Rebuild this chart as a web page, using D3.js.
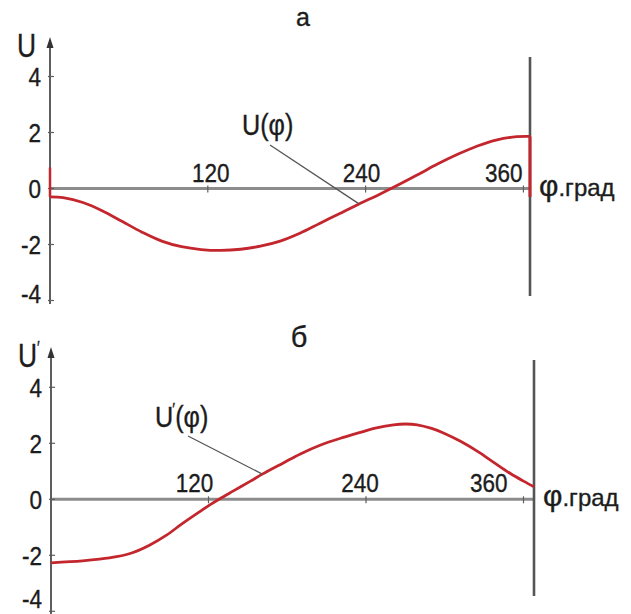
<!DOCTYPE html>
<html><head><meta charset="utf-8">
<script src="https://cdn.jsdelivr.net/npm/d3@7"></script>
<style>
body{margin:0;background:#fff}
svg{display:block}
text{font-family:"Liberation Sans",Arial,sans-serif;fill:#1c1c1c;stroke:#1c1c1c;stroke-width:0.35}
</style>
</head><body>
<script>
// ---- data ----
const yTicks = [4, 2, 0, -2, -4];
const xTicks = [120, 240, 360];
const panelTitles = ["а", "б"];

// panel а : U(φ)
const phiA = [0, 10, 25, 40, 55, 70, 85, 100, 115, 130, 145, 160, 175, 190, 205, 220, 235, 250, 265, 280, 295, 310, 325, 340, 355, 365];
const uA   = [-0.3, -0.33, -0.5, -0.8, -1.18, -1.56, -1.88, -2.08, -2.18, -2.21, -2.17, -2.06, -1.88, -1.6, -1.25, -0.9, -0.55, -0.22, 0.13, 0.5, 0.88, 1.22, 1.52, 1.74, 1.85, 1.86];
const jumpA0 = [0.75, -0.3];   // vertical jump at φ = 0
const jumpA1 = [1.86, -0.3];   // vertical jump at φ = end

// panel б : U'(φ)
const phiB = [0, 24, 37, 50, 62, 75, 88, 100, 114, 121, 129, 139, 152, 161, 177, 190, 205, 222, 235, 248, 261, 270, 279, 290, 299, 312, 325, 337, 350, 360, 368];
const uB   = [-2.27, -2.2, -2.14, -2.05, -1.91, -1.64, -1.28, -0.87, -0.42, -0.2, 0.03, 0.3, 0.65, 0.9, 1.3, 1.62, 1.93, 2.2, 2.38, 2.55, 2.66, 2.69, 2.66, 2.53, 2.37, 2.07, 1.71, 1.33, 0.92, 0.65, 0.45];

const W = 631, H = 614;
const svg = d3.select("body").append("svg").attr("width", W).attr("height", H);

const RED = "#c4262e", AX = "#5e5e5e", XAX = "#8c8c8c";

function txt(g, s, x, y, fs, sx, anchor) {
  return g.append("text")
    .attr("transform", `translate(${x},${y}) scale(${sx},1)`)
    .attr("font-size", fs)
    .attr("text-anchor", anchor || "start")
    .text(s);
}

function panel(cfg) {
  const g = svg.append("g");
  const x = d3.scaleLinear().domain([0, cfg.phiMax]).range([cfg.left, cfg.right]);
  const y = d3.scaleLinear().domain([-4, 4]).range([cfg.zeroY + 4 * cfg.unit, cfg.zeroY - 4 * cfg.unit]);

  // x axis line
  g.append("line").attr("x1", x(0)).attr("x2", x(cfg.phiMax))
    .attr("y1", y(0)).attr("y2", y(0)).attr("stroke", XAX).attr("stroke-width", 3);
  // x ticks
  g.selectAll(".xt").data(xTicks).join("line")
    .attr("x1", d => x(d)).attr("x2", d => x(d))
    .attr("y1", y(0) - 3).attr("y2", y(0) + 4)
    .attr("stroke", AX).attr("stroke-width", 1.2);
  xTicks.forEach((d, i) => {
    txt(g, String(d), x(d) + cfg.xLabOff[i], y(0) - cfg.xLabRaise, 25, 0.9, i === 2 ? "end" : "middle");
  });

  // y axis
  g.append("line").attr("x1", x(0)).attr("x2", x(0))
    .attr("y1", cfg.axisTop + 6).attr("y2", cfg.axisBottom)
    .attr("stroke", AX).attr("stroke-width", 2);
  g.append("path")
    .attr("d", `M${x(0)},${cfg.axisTop} L${x(0) - 3.5},${cfg.axisTop + 11} L${x(0) + 3.5},${cfg.axisTop + 11} Z`)
    .attr("fill", "#333");
  g.selectAll(".yt").data(yTicks).join("line")
    .attr("x1", x(0) - 2).attr("x2", x(0) + 4)
    .attr("y1", d => y(d)).attr("y2", d => y(d))
    .attr("stroke", AX).attr("stroke-width", 1.2);
  yTicks.forEach(d => {
    txt(g, String(d), x(0) - 9, Math.min(y(d) + 9.5, cfg.labBottom), 25, 0.9, "end");
  });

  // right vertical line
  g.append("line").attr("x1", x(cfg.phiMax)).attr("x2", x(cfg.phiMax))
    .attr("y1", cfg.vTop).attr("y2", cfg.vBottom)
    .attr("stroke", "#555").attr("stroke-width", 2.6);

  // curve
  const line = d3.line().x(d => x(d[0])).y(d => y(d[1])).curve(d3.curveCatmullRom.alpha(0.5));
  const pts = cfg.phi.map((p, i) => [p, cfg.u[i]]);
  if (cfg.jump0) {
    g.append("path").attr("d", d3.line()(cfg.jump0.map(v => [x(0), y(v)])))
      .attr("stroke", RED).attr("stroke-width", 2.5).attr("fill", "none");
  }
  if (cfg.jump1) {
    g.append("path").attr("d", d3.line()(cfg.jump1.map(v => [x(cfg.phiMax), y(v)])))
      .attr("stroke", RED).attr("stroke-width", 3).attr("fill", "none");
  }
  g.append("path").attr("d", line(pts))
    .attr("stroke", RED).attr("stroke-width", 2.8).attr("fill", "none");

  // leader line
  const li = cfg.leaderIdx;
  g.append("line").attr("x1", cfg.leaderFrom[0]).attr("y1", cfg.leaderFrom[1])
    .attr("x2", x(cfg.phi[li])).attr("y2", y(cfg.u[li]))
    .attr("stroke", "#555").attr("stroke-width", 1.3);

  // curve label
  const lab = g.append("text")
    .attr("transform", `translate(${cfg.labPos[0]},${cfg.labPos[1]}) scale(0.87,1)`)
    .attr("font-size", 29);
  lab.append("tspan").text("U");
  if (cfg.prime) lab.append("tspan").attr("font-size", 17).attr("dy", -12).attr("dx", -1).text("′");
  lab.append("tspan").attr("dy", cfg.prime ? 12 : 0).text("(φ)");

  // axis name
  const an = g.append("text")
    .attr("transform", `translate(${cfg.left - 33},${cfg.axisTop + 20}) scale(0.8,1)`)
    .attr("font-size", 33);
  an.append("tspan").text("U");
  if (cfg.prime) an.append("tspan").attr("font-size", 18).attr("dy", -13).text("′");

  // φ.град
  const fl = g.append("text").attr("transform", `translate(${x(cfg.phiMax) + 9},${y(0) + 7})`);
  fl.append("tspan").attr("font-size", 30).text("φ");
  fl.append("tspan").attr("font-size", 24).text(".град");

  // title
  txt(g, cfg.title, cfg.titlePos[0], cfg.titlePos[1], cfg.titleFs, 1, "middle");
}

panel({
  phi: phiA, u: uA, jump0: jumpA0, jump1: jumpA1,
  phiMax: 365, left: 50, right: 530, zeroY: 188.5, unit: 28,
  axisTop: 37, axisBottom: 304, labBottom: 303, vTop: 57, vBottom: 296,
  xLabOff: [3, -4, -1], xLabRaise: 6.5,
  leaderFrom: [270, 145], leaderIdx: 16,
  labPos: [242, 135], prime: false,
  title: panelTitles[0], titlePos: [303, 26], titleFs: 25
});

panel({
  phi: phiB, u: uB,
  phiMax: 368, left: 51, right: 534, zeroY: 499.3, unit: 28,
  axisTop: 347, axisBottom: 614, labBottom: 608, vTop: 360, vBottom: 596,
  xLabOff: [-14, -6, -16], xLabRaise: 7,
  leaderFrom: [188, 436], leaderIdx: 13,
  labPos: [155, 427], prime: true,
  title: panelTitles[1], titlePos: [299, 347], titleFs: 29
});
</script>
</body></html>
